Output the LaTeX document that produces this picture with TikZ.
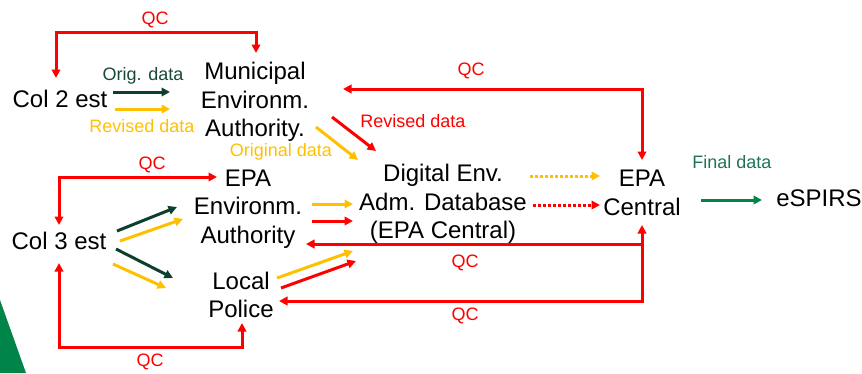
\documentclass[tikz,border=0pt]{standalone}
\usepackage{fontspec}
\setmainfont{Liberation Sans}
\usetikzlibrary{arrows.meta,calc}
\definecolor{qcred}{RGB}{255,0,0}
\definecolor{gold}{RGB}{255,192,0}
\definecolor{darkflow}{RGB}{12,64,44}
\definecolor{origtext}{RGB}{24,72,56}
\definecolor{finaltext}{RGB}{32,116,82}
\definecolor{finalgreen}{RGB}{0,132,72}
\begin{document}
\begin{tikzpicture}[x=1pt,y=-1pt,inner sep=0pt,outer sep=0pt,line width=3pt,
>={Triangle[length=8.5pt,width=8.5pt]},
unit/.style={align=center,font=\fontsize{24}{28.5}\selectfont},
lbl/.style={font=\fontsize{18}{20}\selectfont},
qc/.style={qcred},
orig/.style={darkflow},
rev/.style={gold}]
\useasboundingbox (0,0) rectangle (862,373);
\fill[finalgreen] (0,300) -- (26,373) -- (0,373) -- cycle;

\draw (60,99) node[unit] (col2) {Col 2 est};
\draw (255,102) node[unit] (muni) {Municipal\\Environm.\\Authority.};
\draw (59,241) node[unit] (col3) {Col 3 est};
\draw (248,209) node[unit] (epa) {EPA\\Environm.\\Authority};
\draw (241,295) node[unit] (police) {Local\\Police};
\draw (443,204) node[unit] (dig) {Digital Env.\\Adm. Database\\(EPA Central)};
\draw (642,193) node[unit] (ctrl) {EPA\\Central};
\draw (819,198) node[unit] (espirs) {eSPIRS};

% column 2 route
\draw[qc,<->] ($(col2)+(-4,-21)$) -- ++(0,-46) -| ($(muni)+(1,-49)$);
\draw (155,20) node[lbl,text=qcred] (qc1) {QC};
\draw[orig,->] ($(col2)+(53,-7)$) -- ++(57,0);
\draw[rev,->] ($(col2)+(55,10)$) -- ++(55,0);
\draw (143,76) node[lbl,text=origtext] (lorig) {Orig. data};
\draw (142,126) node[lbl,text=gold] (lrev) {Revised data};
\draw[rev,->] ($(muni)+(61,25)$) -- ($(dig)+(-85,-44)$);
\draw[qc,->] ($(muni)+(77,15)$) -- ($(dig)+(-67,-53)$);
\draw (281,152) node[lbl,text=gold] (lorig2) {Original data};
\draw (413,121) node[lbl,text=qcred] (lrev2) {Revised data};
\draw[qc,<->] ($(muni)+(88,-13)$) -| ($(ctrl)+(0,-33)$);
\draw (471,71) node[lbl,text=qcred] (qc2) {QC};

% column 3 route
\draw[qc,<->] ($(col3)+(0,-16)$) |- ($(epa)+(-31,-32)$);
\draw (152,165) node[lbl,text=qcred] (qc3) {QC};
\draw[orig,->] ($(col3)+(58,-10)$) -- ($(epa)+(-71,-2)$);
\draw[rev,->] ($(col3)+(61,0)$) -- ($(epa)+(-65,10)$);
\draw[orig,->] ($(col3)+(57,8)$) -- ($(police)+(-68,-17)$);
\draw[rev,->] ($(col3)+(54,23)$) -- ($(police)+(-75,-7)$);
\draw[qc,<->] ($(col3)+(0,22)$) -- ++(0,84) -| ($(police)+(1,28)$);
\draw (150,362) node[lbl,text=qcred] (qc4) {QC};

% into the database
\draw[rev,->] ($(epa)+(64,-5)$) -- ($(dig)+(-90,0)$);
\draw[qc,->] ($(epa)+(64,12)$) -- ($(dig)+(-90,17)$);
\draw[rev,->] ($(police)+(36,-17)$) -- ($(dig)+(-90,47)$);
\draw[qc,->] ($(police)+(40,-7)$) -- ($(dig)+(-87,57)$);

% database to central
\draw[rev,->,dash pattern=on 2.5pt off 2.5pt] ($(dig)+(87,-28)$) -- ($(ctrl)+(-42,-17)$);
\draw[qc,->,dash pattern=on 2.5pt off 2.5pt] ($(dig)+(90,1)$) -- ($(ctrl)+(-42,12)$);
\draw[finalgreen,->] ($(ctrl)+(59,7)$) -- ($(espirs)+(-57,2)$);
\draw (732,162) node[lbl,text=finaltext] (lfinal) {Final data};

% central QC back
\draw[qc,->] ($(ctrl)+(0,51)$) -- ($(epa)+(58,35)$);
\draw[qc,<->] ($(police)+(38,6)$) -| ($(ctrl)+(0,32)$);
\draw (465,263) node[lbl,text=qcred] (qc5) {QC};
\draw (465,316) node[lbl,text=qcred] (qc6) {QC};

\end{tikzpicture}
\end{document}
